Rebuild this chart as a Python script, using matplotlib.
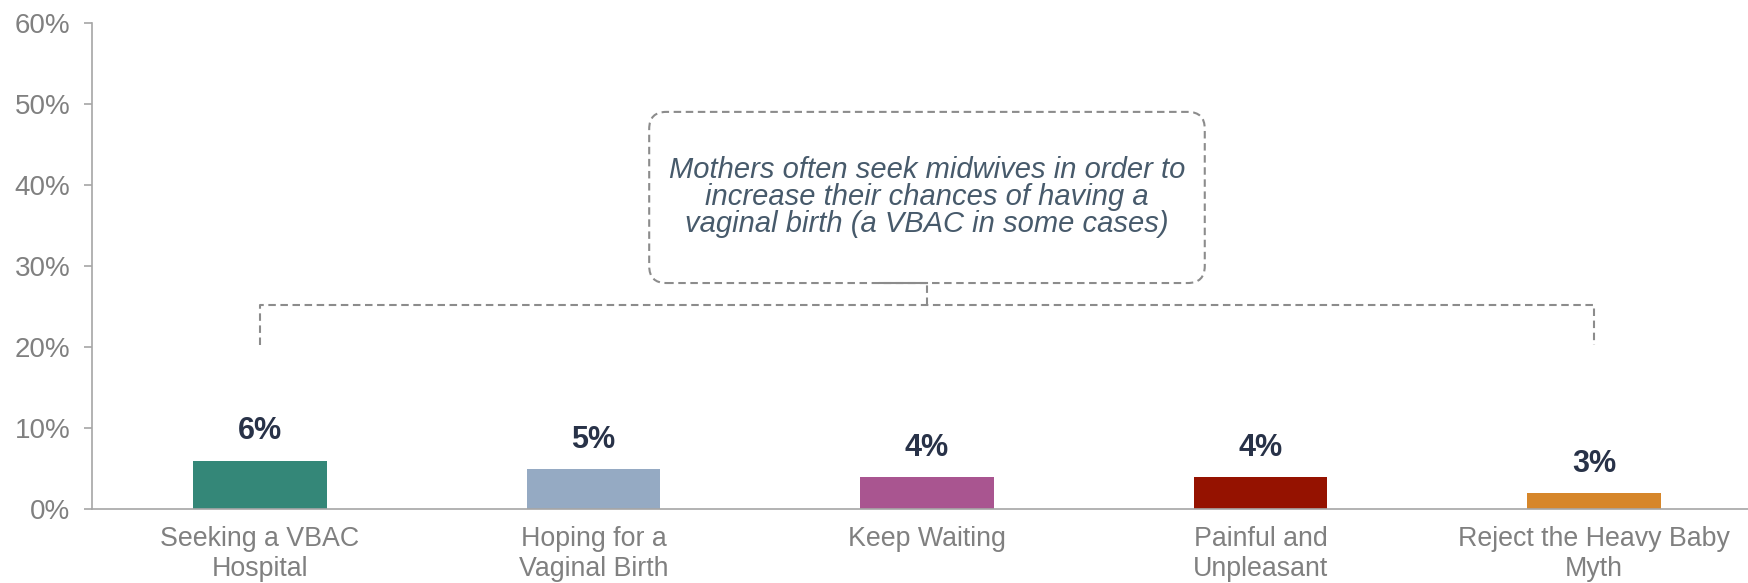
import numpy as np
import matplotlib
matplotlib.use("Agg")
import matplotlib.pyplot as plt
from matplotlib.patches import FancyBboxPatch
from matplotlib.ticker import FuncFormatter

plt.rcParams['font.family'] = ['Liberation Sans', 'DejaVu Sans']

categories = ["Seeking a VBAC\nHospital", "Hoping for a\nVaginal Birth", "Keep Waiting",
              "Painful and\nUnpleasant", "Reject the Heavy Baby\nMyth"]
values = [6, 5, 4, 4, 2]
value_labels = ["6%", "5%", "4%", "4%", "3%"]
colors = ["#348778", "#95AAC3", "#A95590", "#951200", "#D6862A"]
note = "Mothers often seek midwives in order to\nincrease their chances of having a\nvaginal birth (a VBAC in some cases)"

fig = plt.figure(figsize=(17.48, 5.83), dpi=100)
ax = fig.add_axes([0.0528, 0.1264, 1 - 0.0528, 0.9611 - 0.1264])

x = np.arange(len(categories))
ax.bar(x, values, width=0.4, color=colors)

for xi, v, lab in zip(x, values, value_labels):
    ax.annotate(lab, (xi, v), xytext=(0, 21), textcoords='offset points',
                ha='center', va='center', fontsize=22, fontweight='bold', color='#283248')

ax.set_xlim(-0.503, 4.462)
ax.set_ylim(0, 60)
ax.set_yticks(np.arange(0, 61, 10))
ax.yaxis.set_major_formatter(FuncFormatter(lambda v, p: "%d%%" % v))
ax.set_xticks(x)
ax.set_xticklabels(categories, fontsize=19.3, color='#808080', linespacing=1.22)
ax.tick_params(axis='x', length=0, pad=12)
ax.tick_params(axis='y', length=5.8, width=1.2, color='#A6A6A6', labelsize=20,
               labelcolor='#808080', pad=10)

for s in ['top', 'right']:
    ax.spines[s].set_visible(False)
for s in ['left', 'bottom']:
    ax.spines[s].set_color('#A6A6A6')
    ax.spines[s].set_linewidth(1.2)

# callout box and bracket
dash_col = '#8C8C8C'
dash = (0, (3.6, 2.2))
lw = 1.5
box_x0, box_x1 = 1.167, 2.833
box_y0, box_y1 = 27.9, 49.0
br_top, br_bot = 25.15, 20.26

ppx = ax.get_window_extent().width / (4.462 + 0.503)
ppy = ax.get_window_extent().height / 60
aspect = ppx / ppy
box = FancyBboxPatch((box_x0, box_y0), box_x1 - box_x0, box_y1 - box_y0,
                     boxstyle="round,pad=0,rounding_size=%f" % (17 / ppx),
                     mutation_aspect=aspect, fill=False, edgecolor=dash_col,
                     linewidth=lw, linestyle=dash, clip_on=False)
ax.add_patch(box)
ax.text((box_x0 + box_x1) / 2, 38.5, note, ha='center', va='center', fontsize=21,
        style='italic', color='#475A6B', linespacing=0.97)

ax.plot([0, 0, 4, 4], [br_bot, br_top, br_top, br_bot], color=dash_col, lw=lw,
        linestyle=dash, clip_on=False)
ax.plot([2, 2], [br_top, box_y0], color=dash_col, lw=lw, linestyle=dash)
ax.plot([1.86, 2], [box_y0, box_y0], color=dash_col, lw=lw)

fig.savefig("out.png", dpi=100)
